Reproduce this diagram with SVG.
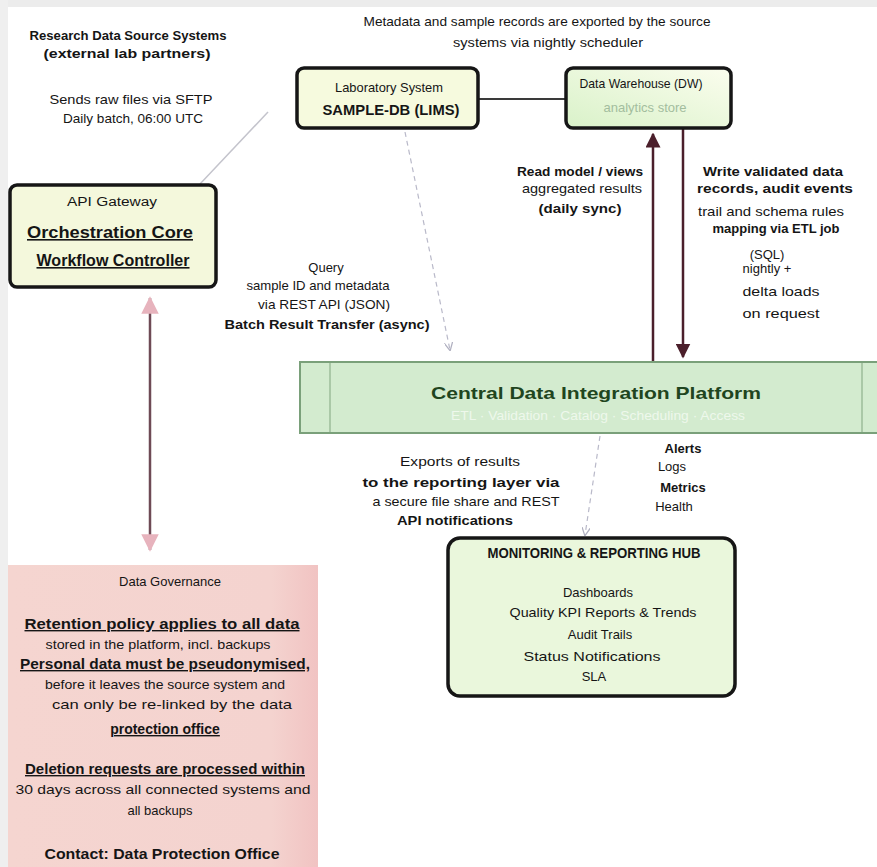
<svg xmlns="http://www.w3.org/2000/svg" width="877" height="867" viewBox="0 0 877 867">
<defs>
<style>
text{font-family:"Liberation Sans",Arial,sans-serif;fill:#151515;}
.t{font-size:13px;text-anchor:middle;}
.b{font-size:13px;font-weight:bold;text-anchor:middle;}
.u{font-size:14px;font-weight:bold;text-anchor:middle;text-decoration:underline;}
.node{stroke:#161616;stroke-width:3.5;}
.conn{fill:none;stroke:#4b1f2b;stroke-width:2.5;}
.faint{fill:none;stroke:#b9b9c9;stroke-width:1.2;stroke-dasharray:5 4;}
</style>
<marker id="ah" viewBox="0 0 10 10" refX="9" refY="5" markerWidth="6" markerHeight="6" orient="auto-start-reverse"><path d="M0,0 L10,5 L0,10 z" fill="#4b1f2b"/></marker>
<marker id="ap" viewBox="0 0 10 10" refX="9" refY="5" markerWidth="7" markerHeight="7" orient="auto-start-reverse"><path d="M0,0 L10,5 L0,10 z" fill="#e7b3bd"/></marker>
<marker id="af" viewBox="0 0 10 10" refX="9" refY="5" markerWidth="7" markerHeight="7" orient="auto-start-reverse"><path d="M0,0 L10,5 L0,10" fill="none" stroke="#b0b0c0" stroke-width="1.5"/></marker>
<linearGradient id="gB" x1="0" y1="1" x2="1" y2="0"><stop offset="0" stop-color="#d9f2c9"/><stop offset="1" stop-color="#fbfdee"/></linearGradient>
<linearGradient id="gP" x1="0" y1="0" x2="1" y2="0"><stop offset="0" stop-color="#f5d5d0"/><stop offset="0.85" stop-color="#f4d3cf"/><stop offset="1" stop-color="#f1c3c2"/></linearGradient>
</defs>
<rect width="877" height="867" fill="#ffffff"/>
<rect x="0" y="0" width="877" height="7" fill="#ececec"/>
<rect x="0" y="0" width="8" height="867" fill="#efefef"/>

<g id="connectors">
<line x1="478" y1="99" x2="566" y2="99" stroke="#3a3a3a" stroke-width="2"/>
<line x1="200" y1="184" x2="268" y2="112" stroke="#c4c4cc" stroke-width="1.5"/>
<line class="faint" x1="405" y1="132" x2="450" y2="350" marker-end="url(#af)"/>
<line class="conn" x1="653" y1="362" x2="653" y2="134" marker-end="url(#ah)"/>
<line class="conn" x1="683" y1="129" x2="683" y2="357" marker-end="url(#ah)"/>
<line x1="150" y1="298" x2="150" y2="550" stroke="#6e4a55" stroke-width="2.5" marker-start="url(#ap)" marker-end="url(#ap)"/>
<line class="faint" x1="600" y1="436" x2="585" y2="535" marker-end="url(#af)"/>
</g>

<g id="label-top-left">
<text class="b" x="128" y="40" textLength="197" lengthAdjust="spacingAndGlyphs">Research Data Source Systems</text>
<text class="b" x="127" y="58" textLength="167" lengthAdjust="spacingAndGlyphs">(external lab partners)</text>
<text class="t" x="131" y="104" textLength="163" lengthAdjust="spacingAndGlyphs">Sends raw files via SFTP</text>
<text class="t" x="133" y="123" textLength="140" lengthAdjust="spacingAndGlyphs">Daily batch, 06:00 UTC</text>
</g>
<g id="label-top">
<text class="t" x="537" y="26" textLength="347" lengthAdjust="spacingAndGlyphs">Metadata and sample records are exported by the source</text>
<text class="t" x="548" y="47" textLength="190" lengthAdjust="spacingAndGlyphs">systems via nightly scheduler</text>
</g>

<g id="node-lab">
<rect class="node" x="297" y="68" width="181" height="60" rx="7" fill="#f6fade"/>
<text class="t" x="389" y="92" textLength="108" lengthAdjust="spacingAndGlyphs">Laboratory System</text>
<text class="b" x="391" y="115" textLength="137" lengthAdjust="spacingAndGlyphs" style="font-size:14px">SAMPLE-DB (LIMS)</text>
</g>
<g id="node-warehouse">
<rect class="node" x="566" y="68" width="165" height="60" rx="7" fill="url(#gB)"/>
<text class="t" x="641" y="88" textLength="123" lengthAdjust="spacingAndGlyphs">Data Warehouse (DW)</text>
<text class="t" x="645" y="112" style="fill:#a3bd9e">analytics store</text>
</g>
<g id="node-gateway">
<rect class="node" x="10" y="185" width="206" height="102" rx="7" fill="#f4f8dc"/>
<text class="t" x="112" y="206" textLength="90" lengthAdjust="spacingAndGlyphs" style="font-size:12px">API Gateway</text>
<text class="u" x="110" y="238" textLength="166" lengthAdjust="spacingAndGlyphs" style="font-size:16px">Orchestration Core</text>
<text class="u" x="113" y="266" textLength="153" lengthAdjust="spacingAndGlyphs" style="font-size:16px">Workflow Controller</text>
</g>

<g id="label-query">
<text class="t" x="326" y="272">Query</text>
<text class="t" x="318" y="290" textLength="143" lengthAdjust="spacingAndGlyphs">sample ID and metadata</text>
<text class="t" x="324" y="309" textLength="132" lengthAdjust="spacingAndGlyphs">via REST API (JSON)</text>
<text class="b" x="327" y="329" textLength="205" lengthAdjust="spacingAndGlyphs">Batch Result Transfer (async)</text>
</g>
<g id="label-read">
<text class="b" x="580" y="176" textLength="126" lengthAdjust="spacingAndGlyphs">Read model / views</text>
<text class="t" x="582" y="193" textLength="120" lengthAdjust="spacingAndGlyphs">aggregated results</text>
<text class="b" x="580" y="213" textLength="83" lengthAdjust="spacingAndGlyphs">(daily sync)</text>
</g>
<g id="label-write">
<text class="b" x="773" y="176" textLength="140" lengthAdjust="spacingAndGlyphs">Write validated data</text>
<text class="b" x="775" y="193" textLength="156" lengthAdjust="spacingAndGlyphs">records, audit events</text>
<text class="t" x="771" y="216" textLength="146" lengthAdjust="spacingAndGlyphs">trail and schema rules</text>
<text class="b" x="776" y="233" textLength="127" lengthAdjust="spacingAndGlyphs">mapping via ETL job</text>
<text class="t" x="767" y="259">(SQL)</text>
<text class="t" x="767" y="273">nightly +</text>
<text class="t" x="781" y="296" textLength="77" lengthAdjust="spacingAndGlyphs">delta loads</text>
<text class="t" x="781" y="318" textLength="77" lengthAdjust="spacingAndGlyphs">on request</text>
</g>

<g id="node-platform">
<rect x="300" y="362" width="580" height="71" fill="#d3ebcf" stroke="#7aa07a" stroke-width="2"/>
<line x1="330" y1="363" x2="330" y2="432" stroke="#9dbd9a" stroke-width="1.5"/>
<line x1="862" y1="363" x2="862" y2="432" stroke="#9dbd9a" stroke-width="1.5"/>
<text x="596" y="399" textLength="330" lengthAdjust="spacingAndGlyphs" style="font-size:17px;font-weight:bold;text-anchor:middle;fill:#1f4520">Central Data Integration Platform</text>
<text x="598" y="420" textLength="294" lengthAdjust="spacingAndGlyphs" style="font-size:13px;text-anchor:middle;fill:#eef8ec">ETL · Validation · Catalog · Scheduling · Access</text>
</g>

<g id="label-export">
<text class="t" x="460" y="466" textLength="120" lengthAdjust="spacingAndGlyphs">Exports of results</text>
<text class="b" x="461" y="487" textLength="197" lengthAdjust="spacingAndGlyphs">to the reporting layer via</text>
<text class="t" x="466" y="506" textLength="187" lengthAdjust="spacingAndGlyphs">a secure file share and REST</text>
<text class="b" x="455" y="525" textLength="116" lengthAdjust="spacingAndGlyphs">API notifications</text>
</g>
<g id="label-alerts">
<text class="b" x="683" y="453">Alerts</text>
<text class="t" x="672" y="471">Logs</text>
<text class="b" x="683" y="492">Metrics</text>
<text class="t" x="674" y="511">Health</text>
</g>

<g id="node-monitoring">
<rect class="node" x="448" y="538" width="287" height="158" rx="12" fill="#eaf7dc"/>
<text class="b" x="594" y="558" textLength="213" lengthAdjust="spacingAndGlyphs" style="font-size:14px">MONITORING &amp; REPORTING HUB</text>
<text class="t" x="598" y="597">Dashboards</text>
<text class="t" x="603" y="617" textLength="187" lengthAdjust="spacingAndGlyphs">Quality KPI Reports &amp; Trends</text>
<text class="t" x="600" y="639">Audit Trails</text>
<text class="t" x="592" y="661" textLength="137" lengthAdjust="spacingAndGlyphs">Status Notifications</text>
<text class="t" x="594" y="681">SLA</text>
</g>

<g id="node-governance">
<rect x="8" y="565" width="310" height="302" fill="url(#gP)"/>
<text class="t" x="170" y="586">Data Governance</text>
<text class="u" x="162" y="629" textLength="275" lengthAdjust="spacingAndGlyphs">Retention policy applies to all data</text>
<text class="t" x="158" y="649" textLength="225" lengthAdjust="spacingAndGlyphs">stored in the platform, incl. backups</text>
<text class="u" x="165" y="669" textLength="290" lengthAdjust="spacingAndGlyphs">Personal data must be pseudonymised,</text>
<text class="t" x="165" y="689" textLength="240" lengthAdjust="spacingAndGlyphs">before it leaves the source system and</text>
<text class="t" x="172" y="709" textLength="240" lengthAdjust="spacingAndGlyphs">can only be re-linked by the data</text>
<text class="u" x="165" y="734">protection office</text>
<text class="u" x="165" y="774" textLength="280" lengthAdjust="spacingAndGlyphs">Deletion requests are processed within</text>
<text class="t" x="163" y="794" textLength="295" lengthAdjust="spacingAndGlyphs">30 days across all connected systems and</text>
<text class="t" x="160" y="815">all backups</text>
<text class="b" x="162" y="859" textLength="235" lengthAdjust="spacingAndGlyphs" style="font-size:15px">Contact: Data Protection Office</text>
</g>
</svg>
